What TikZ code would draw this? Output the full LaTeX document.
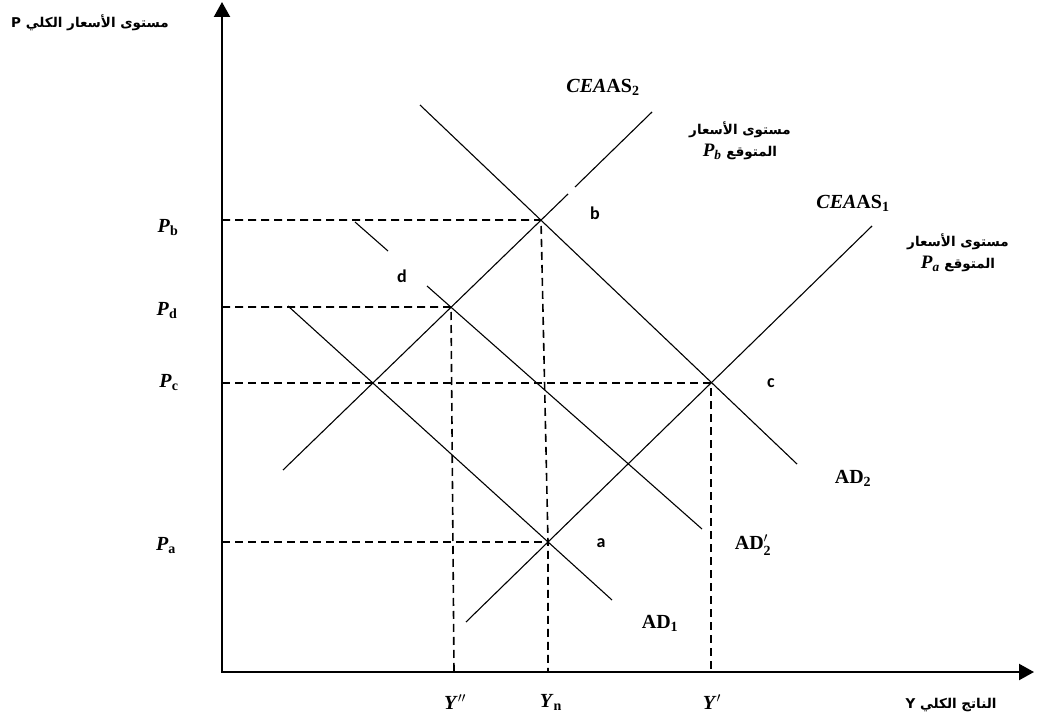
\documentclass[tikz,border=0pt]{standalone}
\usepackage{fix-cm}
\usepackage{amsmath}
\usepackage{fontspec}
\newfontfamily\arabicfont[Script=Arabic]{DejaVu Sans}
\newfontfamily\ptfont{Carlito}
\newfontfamily\lserif{Liberation Serif}
\TeXXeTstate=1
\usetikzlibrary{arrows.meta}

\begin{document}
\begin{tikzpicture}[x=1pt,y=-1pt,
  axis/.style={line width=2.2pt, {Triangle[length=15pt,width=16pt]}-{Triangle[length=15pt,width=16pt]}},
  curve/.style={line width=1.1pt},
  guide/.style={line width=1.6pt, dash pattern=on 8pt off 5pt},
  lbl/.style={font=\lserif\bfseries\fontsize{20}{23}\selectfont, inner sep=0pt},
  ptlbl/.style={font=\ptfont\bfseries\fontsize{18}{20}\selectfont, inner sep=0pt},
  arlbl/.style={font=\arabicfont\bfseries\fontsize{13.5}{22}\selectfont, inner sep=0pt, align=center}
]
\useasboundingbox (0,0) rectangle (1040,719);

% axes
\coordinate (o) at (222,672);
\coordinate (ytop) at (222,2);
\coordinate (xend) at (1034,672);
\draw[axis] (ytop) -- (o) -- (xend);
\node[arlbl] (ylabel) at (90,23) {P \beginR مستوى الأسعار الكلي\endR};
\node[arlbl] (xlabel) at (951,705) {Y \beginR الناتج الكلي\endR};

% equilibrium points
\coordinate (a) at (548,542);
\coordinate (b) at (541,220);
\coordinate (c) at (711,383);
\coordinate (d) at (451,307);
\coordinate (e) at (373,383);
\coordinate (ydd) at (454,672);
\coordinate (yn) at (548,672);

% dashed guides
\draw[guide] (o |- b) -- (b) -- (a) -- (yn);
\draw[guide] (o |- d) -- (d) -- (ydd);
\draw[guide] (o |- c) -- (c) -- (c |- o);
\draw[guide] (o |- a) -- (a);

% supply curves
\coordinate (as1s) at (466,622);
\coordinate (as1e) at (872,226);
\draw[curve] (as1s) -- (as1e);
\coordinate (as2s) at (283,470);
\coordinate (as2m) at (568,194);
\coordinate (as2n) at (575,187);
\coordinate (as2e) at (652,112);
\draw[curve] (as2s) -- (as2m);
\draw[curve] (as2n) -- (as2e);

% demand curves
\coordinate (ad1s) at (288,306);
\coordinate (ad1e) at (612,600);
\draw[curve] (ad1s) -- (ad1e);
\coordinate (ad2s) at (420,105);
\coordinate (ad2e) at (797,464);
\draw[curve] (ad2s) -- (ad2e);
\coordinate (adqs) at (355,222);
\coordinate (adqm) at (388,251);
\coordinate (adqn) at (427,286);
\coordinate (adqe) at (702,529);
\draw[curve] (adqs) -- (adqm);
\draw[curve] (adqn) -- (adqe);

% price levels
\node[lbl] (pb) at (168,228) {\textit{P}\textsubscript{b}};
\node[lbl] (pd) at (167,311) {\textit{P}\textsubscript{d}};
\node[lbl] (pc) at (169,383) {\textit{P}\textsubscript{c}};
\node[lbl] (pa) at (166,546) {\textit{P}\textsubscript{a}};

% output levels
\node[lbl] (ydl) at (455,702) {\textit{Y}$''$};
\node[lbl] (ynl) at (551,702) {\textit{Y}\textsubscript{n}};
\node[lbl] (ypl) at (712,702) {\textit{Y}$'$};

% point labels
\node[ptlbl] (la) at (601,543) {a};
\node[ptlbl] (lb) at (595,213) {b};
\node[ptlbl] (lc) at (771,383) {c};
\node[ptlbl] (ld) at (402,276) {d};

% curve labels
\node[lbl] (las2) at (603,87) {\textit{CEA}AS\textsubscript{2}};
\node[lbl] (las1) at (853,203) {\textit{CEA}AS\textsubscript{1}};
\node[lbl] (lad1) at (660,623) {AD\textsubscript{1}};
\node[lbl] (lad2) at (853,478) {AD\textsubscript{2}};
\node[lbl] (ladq) at (753,545) {AD$'_{\textbf{2}}$};

% expected price notes
\node[arlbl] (expb) at (740,141) {\beginR مستوى الأسعار\endR\\{\lserif\itshape\fontsize{19}{20}\selectfont P\textsubscript{b}} \beginR المتوقع\endR};
\node[arlbl] (expa) at (958,253) {\beginR مستوى الأسعار\endR\\{\lserif\itshape\fontsize{19}{20}\selectfont P\textsubscript{a}} \beginR المتوقع\endR};
\end{tikzpicture}
\end{document}
